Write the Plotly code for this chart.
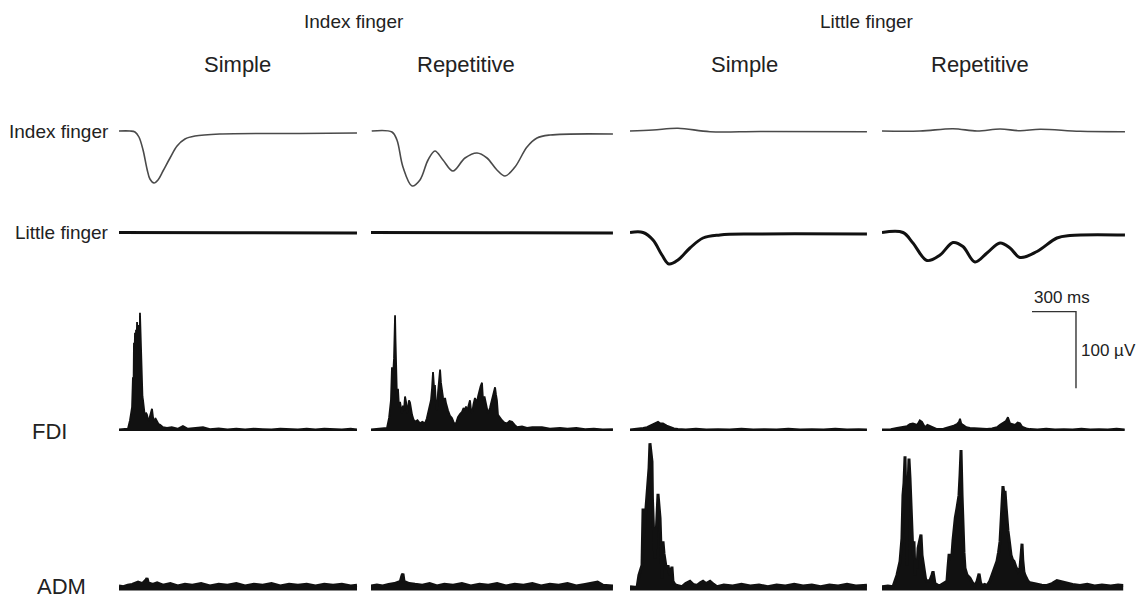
import plotly.graph_objects as go

W, H = 1141, 601

# ---------------- DATA (time in ms, force in a.u., EMG in µV) ----------------
# Index-finger force row
idxF_IS_t = [0, 75, 109, 136, 164, 191, 211, 239, 266, 300, 348, 396, 450, 518, 689, 1234, 1623]
idxF_IS_v = [0, 0, -0.1, -0.6, -1.9, -3.8, -4.8, -5.2, -4.9, -4.0, -2.7, -1.5, -0.8, -0.5, -0.3, -0.25, -0.2]
idxF_IR_t = [5, 143, 177, 218, 280, 334, 389, 436, 491, 559, 641, 723, 791, 859, 914, 982, 1064, 1132, 1221, 1650]
idxF_IR_v = [0, -0.1, -0.9, -3.6, -5.5, -4.9, -2.9, -2.0, -2.9, -4.0, -2.7, -2.2, -2.7, -3.9, -4.5, -3.6, -1.6, -0.7, -0.4, -0.3]
idxF_LS_t = [0, 157, 327, 546, 887, 1616]
idxF_LS_v = [0, 0.1, 0.27, -0.07, -0.05, -0.07]
idxF_LR_t = [0, 259, 484, 648, 805, 941, 1078, 1350, 1657]
idxF_LR_v = [0, 0, 0.23, 0, 0.2, 0.03, 0.17, -0.03, -0.07]

# Little-finger force row
litF_IS_t = [0, 800, 1623]
litF_IS_v = [0, -0.03, -0.05]
litF_IR_t = [0, 800, 1650]
litF_IR_v = [0, -0.03, -0.05]
litF_LS_t = [0, 89, 157, 218, 266, 327, 409, 498, 614, 839, 1616]
litF_LS_v = [0, 0, -0.75, -2.25, -3.15, -2.75, -1.55, -0.55, -0.25, -0.15, -0.15]
litF_LR_t = [0, 143, 211, 307, 396, 484, 552, 634, 716, 805, 873, 941, 1057, 1193, 1282, 1657]
litF_LR_v = [0, 0, -1.05, -2.8, -2.25, -1.0, -1.4, -2.95, -2.05, -1.05, -1.55, -2.5, -1.9, -0.55, -0.3, -0.25]

# FDI EMG row
fdi_IS_t = [0, 40, 61, 75, 82, 89, 95, 99, 102, 106, 109, 113, 116, 120, 123, 127, 130, 133, 136, 140, 143, 147,
            150, 153, 157, 160, 164, 170, 177, 184, 191, 198, 205, 212, 218, 225, 232, 240, 250, 259, 270, 280, 300,
            327, 360, 400, 436, 470, 520, 573, 620, 680, 740, 800, 860, 920, 980, 1040, 1100, 1160, 1220, 1280, 1340,
            1400, 1460, 1520, 1580, 1623]
fdi_IS_v = [2, 2.5, 3, 14, 22, 31, 70, 55, 115, 95, 128, 100, 132, 110, 142, 118, 138, 120, 136, 100, 154, 120,
            106, 75, 57, 45, 40, 25, 18, 24, 21, 15, 14, 20, 26, 29, 18, 14, 16, 12, 9, 8, 5,
            4, 5, 3, 6.5, 3, 4, 5, 2.5, 3.5, 2, 3, 2, 3, 2.5, 2, 3, 2.5, 2, 3, 2,
            3, 2.5, 2, 3, 2]
fdi_IR_t = [0, 50, 109, 123, 136, 143, 150, 157, 160, 164, 167, 171, 177, 184, 191, 198, 205, 211, 218, 225, 232,
            239, 246, 252, 259, 266, 273, 280, 290, 300, 317, 334, 350, 368, 380, 389, 399, 409, 416, 423, 430, 436,
            443, 450, 457, 464, 471, 477, 484, 491, 498, 505, 511, 518, 525, 538, 552, 563, 573, 583, 593, 607, 621,
            631, 641, 648, 655, 665, 675, 682, 689, 699, 709, 716, 723, 730, 737, 747, 757, 760, 764, 774, 784, 791,
            798, 811, 825, 832, 839, 846, 852, 859, 866, 880, 893, 910, 928, 945, 962, 980, 996, 1030, 1064, 1100,
            1166, 1220, 1289, 1340, 1400, 1460, 1520, 1580, 1650]
fdi_IR_v = [2, 2.5, 4, 17, 40, 83, 70, 95, 125, 151, 120, 96, 44, 55, 31, 38, 25, 23, 33, 27, 45,
            38, 23, 30, 40, 37, 25, 21, 15, 12, 14, 10, 12, 10, 16, 23, 30, 40, 55, 77, 57, 60,
            35, 27, 50, 65, 80, 63, 52, 44, 40, 43, 37, 30, 27, 20, 17, 12, 8, 12, 18, 22, 25,
            30, 27, 32, 25, 33, 40, 28, 23, 35, 43, 40, 37, 45, 51, 58, 63, 52, 40, 45, 37, 30,
            23, 30, 40, 44, 50, 57, 48, 40, 21, 17, 14, 11, 10, 13, 12, 8, 5, 6, 4, 5,
            5, 3, 4, 3, 4, 2.5, 3, 2, 2.5]
fdi_LS_t = [0, 40, 68, 90, 116, 135, 157, 175, 191, 205, 225, 250, 273, 300, 327, 380, 450, 520, 600, 680, 760,
            840, 920, 1000, 1080, 1160, 1240, 1320, 1400, 1480, 1560, 1616]
fdi_LS_v = [2, 2.5, 3, 4, 5, 7, 9, 11, 12, 10, 10, 7, 5, 3.5, 2.6, 2, 3, 2, 2.5, 2, 3,
            2, 2.5, 2, 3, 2, 2.5, 2, 3, 2, 2.5, 2]
fdi_LR_t = [0, 60, 102, 140, 171, 190, 211, 240, 258, 273, 286, 293, 310, 327, 350, 375, 420, 464, 490, 511, 525,
            532, 540, 552, 575, 600, 650, 716, 750, 784, 805, 825, 845, 859, 866, 873, 890, 907, 925, 941, 955,
            962, 985, 1009, 1060, 1120, 1180, 1240, 1300, 1360, 1420, 1480, 1540, 1600, 1655]
fdi_LR_v = [2, 2.5, 4, 5, 6.5, 9, 10, 8, 14, 12, 7, 5, 8, 6.5, 4, 2.6, 3, 5, 7, 9, 12,
            16, 10, 8, 5, 4, 3, 2.6, 3.5, 5, 8, 10, 13, 18, 12, 10, 9, 8, 11, 10, 6,
            5, 3.5, 2.6, 2, 3, 2, 2.5, 2, 3, 2, 2.5, 2, 3, 2]

# ADM EMG row
adm_IS_t = [0, 30, 60, 90, 130, 160, 185, 191, 200, 230, 260, 300, 350, 400, 450, 500, 560, 620, 680, 740, 800,
            860, 920, 980, 1040, 1100, 1160, 1220, 1280, 1340, 1400, 1460, 1520, 1580, 1623]
adm_IS_v = [6, 5, 7, 8, 11, 9, 14, 16, 10, 8, 10, 7, 9, 6, 8, 7, 9, 6, 8, 7, 9,
            6, 8, 7, 9, 6, 8, 7, 8, 6, 8, 7, 8, 6, 7]
adm_IR_t = [0, 40, 80, 120, 160, 200, 212, 218, 225, 260, 300, 350, 400, 450, 500, 560, 620, 680, 740, 800, 860,
            920, 980, 1040, 1100, 1160, 1220, 1280, 1340, 1400, 1460, 1520, 1545, 1580, 1650]
adm_IR_v = [6, 7, 6, 8, 9, 12, 20, 22, 12, 9, 8, 7, 9, 6, 8, 7, 9, 6, 8, 7, 9,
            6, 8, 7, 9, 6, 8, 7, 9, 6, 8, 10, 11, 7, 6]
adm_LS_t = [0, 48, 61, 75, 82, 89, 95, 102, 109, 116, 123, 130, 136, 143, 150, 153, 157, 164, 171, 177, 184, 191,
            198, 205, 212, 218, 222, 225, 232, 239, 246, 252, 259, 266, 273, 280, 286, 293, 305, 320, 355, 380, 409,
            430, 457, 480, 498, 520, 546, 570, 593, 640, 700, 760, 820, 880, 940, 1000, 1060, 1120, 1180, 1240,
            1300, 1360, 1420, 1480, 1540, 1616]
adm_LS_v = [5, 4, 20, 28, 33, 107, 70, 90, 110, 124, 146, 160, 192, 175, 168, 120, 94, 60, 42, 70, 98, 126,
            110, 94, 50, 16, 45, 64, 48, 38, 30, 29, 33, 25, 20, 26, 31, 12, 8, 6.5, 5, 9, 12,
            8, 6.5, 10, 12, 9, 12, 8, 5, 7, 6, 8, 6, 7, 5, 7, 6, 8, 6, 7,
            5, 7, 6, 8, 6, 7]
adm_LR_t = [0, 40, 75, 102, 123, 136, 143, 150, 157, 160, 164, 168, 171, 175, 184, 191, 198, 205, 211, 218, 225,
            232, 239, 246, 256, 266, 273, 286, 297, 307, 327, 340, 348, 361, 380, 396, 420, 443, 450, 457, 467,
            477, 484, 491, 500, 511, 518, 525, 532, 539, 546, 552, 559, 566, 580, 600, 617, 634, 648, 662, 672,
            682, 700, 716, 735, 750, 765, 784, 795, 805, 815, 825, 832, 839, 846, 852, 859, 866, 873, 880, 890,
            900, 914, 928, 935, 941, 948, 955, 960, 962, 968, 975, 985, 996, 1010, 1030, 1060, 1090, 1125, 1160,
            1193, 1230, 1262, 1300, 1350, 1400, 1450, 1500, 1560, 1610, 1645]
adm_LR_v = [5, 6, 5, 20, 38, 68, 124, 140, 175, 150, 124, 80, 33, 120, 172, 146, 103, 70, 46, 64, 20,
            35, 29, 55, 65, 73, 46, 25, 15, 12, 13, 20, 25, 9, 7, 6.5, 9, 12, 30, 46, 46,
            46, 65, 81, 95, 107, 115, 124, 150, 183, 124, 81, 50, 29, 20, 16, 10, 6.5, 12, 22, 10,
            6.5, 8, 6.5, 12, 20, 28, 38, 50, 64, 100, 136, 125, 130, 110, 90, 78, 68, 55, 46, 40,
            38, 30, 25, 27, 29, 45, 61, 40, 29, 24, 20, 15, 12, 10, 9, 8, 7, 6.5, 9,
            13, 11, 10, 8, 6.5, 8, 6, 7, 6, 7, 6.5]

col_titles = ["Simple", "Repetitive", "Simple", "Repetitive"]
group_titles = ["Index finger", "Little finger"]
row_labels = ["Index finger", "Little finger", "FDI", "ADM"]
scale_ms = 300
scale_uv = 100

# ---------------- LAYOUT GEOMETRY (pixels) ----------------
MS_PER_PX = 6.82
T_MAX = 1660
col_x0 = [119, 371, 630, 882]
rows = [  # baseline px, px per unit, domain top px, domain bottom px
    dict(y0=131.0, ppu=10.0, top=105, bot=200),
    dict(y0=232.5, ppu=10.0, top=210, bot=282),
    dict(y0=431.0, ppu=0.767, top=288, bot=446),
    dict(y0=590.5, ppu=0.767, top=432, bot=600),
]

fig = go.Figure()
layout = dict(width=W, height=H, margin=dict(l=0, r=0, t=0, b=0), autosize=False,
              paper_bgcolor="white", plot_bgcolor="white", showlegend=False)

for c, x0 in enumerate(col_x0):
    name = "xaxis" if c == 0 else f"xaxis{c+1}"
    layout[name] = dict(domain=[x0 / W, (x0 + T_MAX / MS_PER_PX) / W], range=[0, T_MAX],
                        visible=False, fixedrange=True)
for r, rw in enumerate(rows):
    name = "yaxis" if r == 0 else f"yaxis{r+1}"
    lo = -(rw["bot"] - rw["y0"]) / rw["ppu"]
    hi = (rw["y0"] - rw["top"]) / rw["ppu"]
    layout[name] = dict(domain=[1 - rw["bot"] / H, 1 - rw["top"] / H], range=[lo, hi],
                        visible=False, fixedrange=True)

force_data = [
    [(idxF_IS_t, idxF_IS_v), (idxF_IR_t, idxF_IR_v), (idxF_LS_t, idxF_LS_v), (idxF_LR_t, idxF_LR_v)],
    [(litF_IS_t, litF_IS_v), (litF_IR_t, litF_IR_v), (litF_LS_t, litF_LS_v), (litF_LR_t, litF_LR_v)],
]
emg_data = [
    [(fdi_IS_t, fdi_IS_v), (fdi_IR_t, fdi_IR_v), (fdi_LS_t, fdi_LS_v), (fdi_LR_t, fdi_LR_v)],
    [(adm_IS_t, adm_IS_v), (adm_IR_t, adm_IR_v), (adm_LS_t, adm_LS_v), (adm_LR_t, adm_LR_v)],
]


def ax(prefix, i):
    return prefix if i == 0 else f"{prefix}{i+1}"


force_styles = [dict(color="#4a4a4a", width=1.6), dict(color="#111111", width=3.0)]
for r in range(2):
    for c in range(4):
        t, v = force_data[r][c]
        fig.add_trace(go.Scatter(x=t, y=v, mode="lines", xaxis=ax("x", c), yaxis=ax("y", r),
                                 line=dict(shape="spline", smoothing=1.0, **force_styles[r]),
                                 hoverinfo="skip"))

emg_widths = [1.8, 3.0]
for r in range(2):
    for c in range(4):
        t, v = emg_data[r][c]
        fig.add_trace(go.Scatter(x=t, y=v, mode="lines", xaxis=ax("x", c), yaxis=ax("y", r + 2),
                                 line=dict(color="#111111", width=emg_widths[r]),
                                 fill="tozeroy", fillcolor="#111111", hoverinfo="skip"))

# scale bar (time on column-4 axis, amplitude on FDI axis)
sb_t = 1323
sb_v = 55.6
fig.add_trace(go.Scatter(x=[sb_t - scale_ms, sb_t, sb_t], y=[sb_v + scale_uv, sb_v + scale_uv, sb_v],
                         mode="lines", xaxis="x4", yaxis="y3",
                         line=dict(color="#333333", width=1.4), hoverinfo="skip"))

FONT = "Liberation Sans, Arial, sans-serif"
TXT = "#222222"
ann = []
ann.append(dict(text=f"{scale_ms} ms", xref="x4", yref="y3", x=sb_t - scale_ms, y=sb_v + scale_uv,
                xanchor="left", yanchor="bottom", yshift=3, showarrow=False,
                font=dict(family=FONT, size=17, color=TXT)))
ann.append(dict(text=f"{scale_uv} µV", xref="x4", yref="y3", x=sb_t, y=sb_v + scale_uv / 2,
                xanchor="left", yanchor="middle", xshift=3, showarrow=False,
                font=dict(family=FONT, size=17, color=TXT)))

group_cx = [354, 867]
for g, cx in zip(group_titles, group_cx):
    ann.append(dict(text=g, xref="paper", yref="paper", x=cx / W, y=1 - 22 / H,
                    xanchor="center", yanchor="middle", showarrow=False,
                    font=dict(family=FONT, size=19, color=TXT)))
col_cx = [237, 466, 744, 980]
for t, cx in zip(col_titles, col_cx):
    ann.append(dict(text=t, xref="paper", yref="paper", x=cx / W, y=1 - 64 / H,
                    xanchor="center", yanchor="middle", showarrow=False,
                    font=dict(family=FONT, size=22, color=TXT)))

# row labels
ann.append(dict(text=row_labels[0], xref="paper", yref="y", x=111 / W, y=0, xanchor="right",
                yanchor="middle", showarrow=False, font=dict(family=FONT, size=19, color=TXT)))
ann.append(dict(text=row_labels[1], xref="paper", yref="y2", x=111 / W, y=0, xanchor="right",
                yanchor="middle", showarrow=False, font=dict(family=FONT, size=19, color=TXT)))
ann.append(dict(text=row_labels[2], xref="paper", yref="y3", x=30 / W, y=0, xanchor="left",
                yanchor="middle", showarrow=False, font=dict(family=FONT, size=22, color=TXT)))
ann.append(dict(text=row_labels[3], xref="paper", yref="y4", x=35 / W, y=0, xanchor="left",
                yanchor="middle", yshift=4, showarrow=False, font=dict(family=FONT, size=22, color=TXT)))

layout["annotations"] = ann
fig.update_layout(**layout)
fig.write_html("out.html", config={"displayModeBar": False})
